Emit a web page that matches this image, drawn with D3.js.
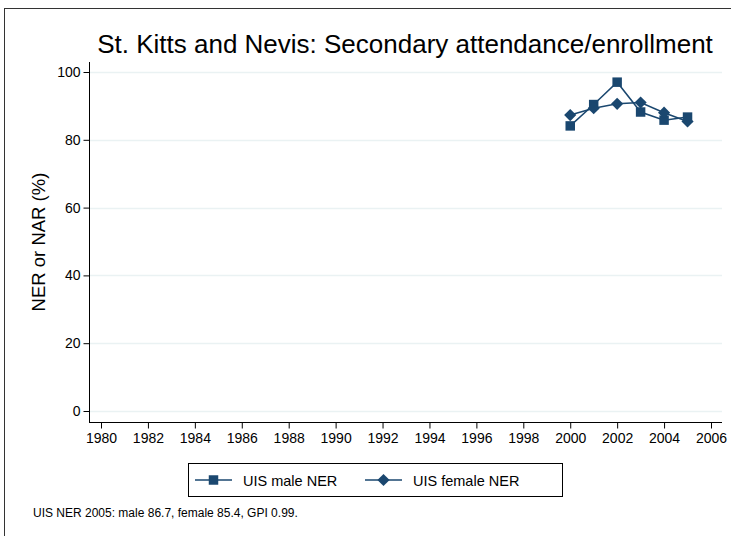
<!DOCTYPE html>
<html>
<head>
<meta charset="utf-8">
<script src="https://cdn.jsdelivr.net/npm/d3@7"></script>
<style>
body { margin: 0; background: #fff; }
svg { font-family: "Liberation Sans", Arial, sans-serif; display: block; }
</style>
</head>
<body>
<div id="chart"></div>
<script>
var width = 731;
var height = 536;

// data
var years = [2000, 2001, 2002, 2003, 2004, 2005];
var maleNER = [84.1, 90.4, 97.0, 88.2, 85.8, 86.7];
var femaleNER = [87.3, 89.3, 90.6, 91.0, 88.0, 85.4];
var xTicks = [1980, 1982, 1984, 1986, 1988, 1990, 1992, 1994, 1996, 1998, 2000, 2002, 2004, 2006];
var yTicks = [0, 20, 40, 60, 80, 100];

var navy = "#1a476f";

var svg = d3.select("#chart")
    .append("svg")
    .attr("width", width)
    .attr("height", height);

// outer frame
svg.append("rect")
    .attr("x", 4.5).attr("y", 8.5)
    .attr("width", 760).attr("height", 560)
    .attr("fill", "none")
    .attr("stroke", "#333")
    .attr("stroke-width", 1);

var x = d3.scaleLinear().domain([1980, 2006]).range([101, 711]);
var y = d3.scaleLinear().domain([0, 100]).range([411, 72]);

var plotLeft = 89, plotRight = 722, plotTop = 62, plotBottom = 422;

// gridlines
svg.append("g")
    .selectAll("line")
    .data(yTicks)
    .enter().append("line")
    .attr("x1", plotLeft).attr("x2", plotRight)
    .attr("y1", function (d) { return Math.round(y(d)) + 0.5; })
    .attr("y2", function (d) { return Math.round(y(d)) + 0.5; })
    .style("stroke", "#eaf2f3")
    .style("stroke-width", 1.5);

// y axis
var yAxis = svg.append("g")
    .attr("transform", "translate(" + (plotLeft + 0.5) + ",0)")
    .call(d3.axisLeft(y).tickValues(yTicks).tickSize(6).tickPadding(3));
yAxis.select(".domain").attr("d", "M0," + plotTop + "V" + plotBottom);

// x axis
var xAxis = svg.append("g")
    .attr("transform", "translate(0," + (plotBottom + 0.5) + ")")
    .call(d3.axisBottom(x).tickValues(xTicks).tickFormat(d3.format("d")).tickSize(6).tickPadding(5));
xAxis.select(".domain").attr("d", "M" + plotLeft + ",0H" + plotRight);

svg.selectAll(".tick text")
    .style("font-size", "14px")
    .style("font-family", "Liberation Sans, Arial, sans-serif")
    .attr("fill", "#000");
svg.selectAll(".domain, .tick line").attr("stroke", "#000");

// axis title
svg.append("text")
    .attr("transform", "translate(45,242) rotate(-90)")
    .attr("text-anchor", "middle")
    .style("font-size", "18.5px")
    .text("NER or NAR (%)");

// title
svg.append("text")
    .attr("x", 405).attr("y", 53)
    .attr("text-anchor", "middle")
    .style("font-size", "26px")
    .text("St. Kitts and Nevis: Secondary attendance/enrollment");

var line = d3.line()
    .x(function (d) { return x(d[0]); })
    .y(function (d) { return y(d[1]); });

var maleRows = years.map(function (yr, i) { return [yr, maleNER[i]]; });
var femaleRows = years.map(function (yr, i) { return [yr, femaleNER[i]]; });

// square markers, and diamonds as squares turned 45 degrees
var square = d3.symbol().type(d3.symbolSquare).size(90)();
var diamond = d3.symbol().type(d3.symbolSquare).size(74)();

function drawSeries(rows, sym, rot) {
    svg.append("path")
        .datum(rows)
        .attr("d", line)
        .attr("fill", "none")
        .style("stroke", navy)
        .style("stroke-width", 1.5);
    svg.append("g")
        .selectAll("path")
        .data(rows)
        .enter().append("path")
        .attr("d", sym)
        .attr("transform", function (d) {
            return "translate(" + x(d[0]) + "," + y(d[1]) + ") rotate(" + rot + ")";
        })
        .attr("fill", navy);
}
drawSeries(maleRows, square, 0);
drawSeries(femaleRows, diamond, 45);

// legend
var legend = svg.append("g");
legend.append("rect")
    .attr("x", 188.5).attr("y", 463.5)
    .attr("width", 374).attr("height", 33)
    .attr("fill", "#fff")
    .attr("stroke", "#000");

var items = [
    {label: "UIS male NER", x0: 195, sym: square, rot: 0},
    {label: "UIS female NER", x0: 365, sym: diamond, rot: 45}
];
items.forEach(function (it) {
    legend.append("line")
        .attr("x1", it.x0).attr("x2", it.x0 + 37)
        .attr("y1", 480).attr("y2", 480)
        .style("stroke", navy).style("stroke-width", 1.5);
    legend.append("path")
        .attr("d", it.sym)
        .attr("transform", "translate(" + (it.x0 + 18.5) + ",480) rotate(" + it.rot + ")")
        .attr("fill", navy);
    legend.append("text")
        .attr("x", it.x0 + 48).attr("y", 485.5)
        .style("font-size", "14.5px")
        .text(it.label);
});

// note
svg.append("text")
    .attr("x", 33).attr("y", 517)
    .style("font-size", "12px")
    .text("UIS NER 2005: male 86.7, female 85.4, GPI 0.99.");
</script>
</body>
</html>
